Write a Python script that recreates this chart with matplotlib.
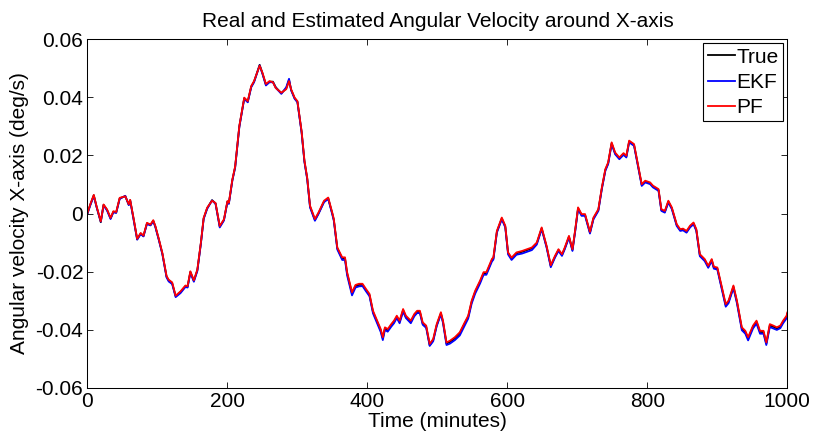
import matplotlib
matplotlib.use("Agg")
import matplotlib.pyplot as plt

plt.rcParams['font.family'] = ['Liberation Sans', 'DejaVu Sans']
plt.rcParams['axes.unicode_minus'] = False

# time stamps (minutes)
t = [0, 4, 9, 13, 19, 23, 28, 33, 37, 41,
     46, 54, 59, 61, 66, 71, 76, 80, 85, 90,
     94, 97, 102, 107, 113, 116, 121, 126, 133, 140,
     143, 147, 152, 157, 162, 166, 171, 178, 183, 189,
     195, 200, 202, 207, 211, 217, 224, 229, 234, 238,
     246, 250, 255, 260, 265, 269, 277, 284, 288, 291,
     296, 300, 306, 310, 314, 318, 325, 330, 338, 344,
     350, 352, 357, 364, 368, 371, 378, 383, 388, 393,
     398, 403, 408, 414, 419, 422, 425, 429, 434, 438,
     442, 446, 451, 455, 462, 467, 471, 475, 479, 484,
     489, 494, 499, 505, 508, 513, 518, 525, 532, 539,
     544, 549, 554, 561, 566, 570, 578, 580, 585, 592,
     597, 601, 606, 613, 621, 628, 635, 642, 649, 656,
     662, 668, 673, 678, 682, 688, 693, 697, 701, 706,
     711, 718, 723, 730, 735, 740, 744, 749, 754, 760,
     766, 770, 774, 781, 787, 792, 797, 804, 808, 816,
     820, 825, 830, 835, 842, 847, 851, 856, 861, 866,
     870, 875, 882, 887, 892, 895, 900, 906, 912, 916,
     923, 928, 935, 940, 944, 951, 956, 961, 966, 970,
     975, 980, 985, 990, 994, 999, 1000]

# true angular velocity (deg/s)
w_true = [0.0, 0.003, 0.0063, 0.0023, -0.003, 0.003, 0.0012, -0.0017, 0.0006, 0.0003,
          0.0052, 0.006, 0.003, 0.0046, -0.002, -0.0089, -0.0069, -0.0078, -0.0034, -0.004,
          -0.0025, -0.0045, -0.009, -0.0138, -0.0218, -0.023, -0.024, -0.0285, -0.027, -0.025,
          -0.0253, -0.0201, -0.0232, -0.0195, -0.0103, -0.0017, 0.0018, 0.0046, 0.0035, -0.0045,
          -0.0022, 0.0041, 0.0035, 0.0115, 0.016, 0.030, 0.0397, 0.0385, 0.0437, 0.0454,
          0.0512, 0.0483, 0.0443, 0.0454, 0.0454, 0.0435, 0.0414, 0.0431, 0.046, 0.0426,
          0.0397, 0.0385, 0.028, 0.018, 0.012, 0.0024, -0.0022, 0.0, 0.0041, 0.0052,
          -0.0002, -0.0022, -0.012, -0.0155, -0.0155, -0.0206, -0.0275, -0.025, -0.0246, -0.0246,
          -0.0264, -0.0281, -0.0339, -0.0373, -0.0402, -0.043, -0.0396, -0.0402, -0.0385, -0.0373,
          -0.0356, -0.0373, -0.0333, -0.0356, -0.0373, -0.035, -0.0339, -0.0339, -0.0379, -0.039,
          -0.0454, -0.0436, -0.0385, -0.0344, -0.0373, -0.0448, -0.0442, -0.043, -0.0413, -0.0379,
          -0.0356, -0.0304, -0.027, -0.0235, -0.0206, -0.0206, -0.016, -0.0155, -0.0063, -0.0017,
          -0.0045, -0.0137, -0.0155, -0.0137, -0.0132, -0.0126, -0.012, -0.0103, -0.0051, -0.0114,
          -0.0181, -0.0149, -0.0126, -0.0143, -0.012, -0.008, -0.0126, -0.0057, 0.0018, -0.0005,
          -0.0005, -0.0066, -0.0017, 0.0012, 0.0087, 0.015, 0.0173, 0.0242, 0.0207, 0.019,
          0.0205, 0.0196, 0.0248, 0.0236, 0.0161, 0.0098, 0.011, 0.0104, 0.0093, 0.0081,
          0.0012, 0.0006, 0.0041, 0.0018, -0.004, -0.0057, -0.0055, -0.0063, -0.0045, -0.0034,
          -0.0057, -0.0143, -0.016, -0.0183, -0.016, -0.0186, -0.0189, -0.0252, -0.0316, -0.0304,
          -0.0252, -0.0304, -0.0396, -0.0408, -0.043, -0.039, -0.0373, -0.0408, -0.0408, -0.0448,
          -0.0385, -0.039, -0.0396, -0.039, -0.0373, -0.0356, -0.0345]

# extended Kalman filter estimate
w_ekf = [0.0, 0.0028, 0.006, 0.0022, -0.0028, 0.0028, 0.001, -0.0019, 0.0004, 0.0002,
         0.005, 0.0061, 0.0029, 0.0044, -0.0022, -0.009, -0.0071, -0.0079, -0.0036, -0.0041,
         -0.0027, -0.0047, -0.0092, -0.014, -0.022, -0.0234, -0.0243, -0.0288, -0.0274, -0.0253,
         -0.0255, -0.0204, -0.0235, -0.0198, -0.0105, -0.0019, 0.0016, 0.0045, 0.0033, -0.0048,
         -0.0024, 0.004, 0.0033, 0.0113, 0.0158, 0.0298, 0.0395, 0.0383, 0.0435, 0.0452,
         0.051, 0.0481, 0.0441, 0.0452, 0.0452, 0.0433, 0.0412, 0.0435, 0.0464, 0.0424,
         0.0395, 0.0383, 0.0278, 0.0178, 0.0118, 0.0021, -0.0025, -0.0002, 0.0039, 0.005,
         -0.0005, -0.0025, -0.0124, -0.016, -0.016, -0.0213, -0.0282, -0.0255, -0.0251, -0.025,
         -0.0268, -0.0285, -0.0344, -0.0379, -0.0408, -0.0436, -0.0401, -0.0407, -0.039, -0.0378,
         -0.036, -0.0378, -0.0338, -0.036, -0.0378, -0.0354, -0.0343, -0.0343, -0.0383, -0.0394,
         -0.0456, -0.044, -0.0388, -0.0347, -0.0377, -0.0453, -0.0448, -0.0436, -0.042, -0.0386,
         -0.0362, -0.031, -0.0276, -0.0241, -0.0211, -0.0211, -0.0165, -0.0159, -0.0066, -0.002,
         -0.0048, -0.0141, -0.016, -0.0142, -0.0138, -0.0132, -0.0126, -0.0107, -0.0054, -0.0117,
         -0.0185, -0.0152, -0.0129, -0.0146, -0.0123, -0.0083, -0.0129, -0.006, 0.0015, -0.0008,
         -0.0008, -0.0069, -0.002, 0.0009, 0.0084, 0.0147, 0.017, 0.0239, 0.0204, 0.0187,
         0.0202, 0.0193, 0.0245, 0.0233, 0.0158, 0.0095, 0.0107, 0.0101, 0.009, 0.0078,
         0.0009, 0.0003, 0.0038, 0.0015, -0.0043, -0.006, -0.0058, -0.0066, -0.0048, -0.0037,
         -0.006, -0.0147, -0.0164, -0.0187, -0.0164, -0.019, -0.0193, -0.0257, -0.0321, -0.0309,
         -0.0257, -0.0309, -0.0402, -0.0414, -0.0437, -0.0396, -0.0379, -0.0414, -0.0414, -0.0453,
         -0.0391, -0.0396, -0.0401, -0.0395, -0.0378, -0.0361, -0.035]

# particle filter estimate
w_pf = [0.0002, 0.0032, 0.0064, 0.0025, -0.0027, 0.0031, 0.0014, -0.0015, 0.0008, 0.0005,
        0.0054, 0.0059, 0.0032, 0.0047, -0.0018, -0.0087, -0.0067, -0.0076, -0.0032, -0.0038,
        -0.0023, -0.0043, -0.0088, -0.0136, -0.0215, -0.0228, -0.0237, -0.0283, -0.0268, -0.0248,
        -0.025, -0.0199, -0.023, -0.0193, -0.0101, -0.0015, 0.002, 0.0044, 0.0036, -0.0043,
        -0.002, 0.0043, 0.0037, 0.0117, 0.0162, 0.0302, 0.0399, 0.0387, 0.0439, 0.0456,
        0.0509, 0.0485, 0.0446, 0.0456, 0.0452, 0.0432, 0.0416, 0.0428, 0.0456, 0.0428,
        0.0399, 0.0387, 0.0283, 0.0183, 0.0123, 0.0027, -0.0019, 0.0003, 0.0044, 0.0055,
        0.0001, -0.0019, -0.0117, -0.0151, -0.0151, -0.0202, -0.0271, -0.0246, -0.0242, -0.0242,
        -0.026, -0.0277, -0.0335, -0.0369, -0.0398, -0.0426, -0.0392, -0.0398, -0.0381, -0.0369,
        -0.0352, -0.0369, -0.0329, -0.0352, -0.0369, -0.0346, -0.0335, -0.0335, -0.0375, -0.0386,
        -0.0449, -0.0432, -0.0381, -0.034, -0.0369, -0.0444, -0.0438, -0.0426, -0.0409, -0.0375,
        -0.0352, -0.03, -0.0266, -0.0231, -0.0202, -0.0202, -0.0156, -0.0151, -0.006, -0.0014,
        -0.0042, -0.0134, -0.0152, -0.0134, -0.0129, -0.0123, -0.0117, -0.01, -0.0048, -0.0111,
        -0.0178, -0.0146, -0.0123, -0.014, -0.0117, -0.0077, -0.0123, -0.0054, 0.0021, -0.0002,
        -0.0002, -0.0063, -0.0014, 0.0015, 0.009, 0.0153, 0.0176, 0.0245, 0.021, 0.0193,
        0.0208, 0.0199, 0.0251, 0.0239, 0.0164, 0.0101, 0.0113, 0.0107, 0.0096, 0.0084,
        0.0015, 0.0009, 0.0044, 0.0021, -0.0037, -0.0054, -0.0052, -0.006, -0.0042, -0.0031,
        -0.0054, -0.014, -0.0157, -0.018, -0.0157, -0.0183, -0.0186, -0.0248, -0.0312, -0.03,
        -0.0248, -0.03, -0.0392, -0.0404, -0.0426, -0.0386, -0.0369, -0.0404, -0.0404, -0.0444,
        -0.0381, -0.0386, -0.0392, -0.0386, -0.0369, -0.0352, -0.0341]

assert len(t) == len(w_true) == len(w_ekf) == len(w_pf)

xticks = [0, 200, 400, 600, 800, 1000]
yticks = [-0.06, -0.04, -0.02, 0, 0.02, 0.04, 0.06]
ylabels = ['-0.06', '-0.04', '-0.02', '0', '0.02', '0.04', '0.06']

FS = 15

fig = plt.figure(figsize=(8.13, 4.38), dpi=100)
ax = fig.add_axes([0.1076, 0.1148, 0.8608, 0.7955])

ax.plot(t, w_true, color='black', lw=1.3, label='True')
ax.plot(t, w_ekf, color='blue', lw=1.3, label='EKF')
ax.plot(t, w_pf, color='red', lw=1.3, label='PF')

ax.set_xlim(0, 1000)
ax.set_ylim(-0.06, 0.06)
ax.set_xticks(xticks)
ax.set_yticks(yticks)
ax.set_yticklabels(ylabels)
ax.tick_params(direction='in', length=4.5, width=0.6, top=True, right=True, labelsize=FS)
ax.tick_params(axis='x', pad=3)
ax.tick_params(axis='y', pad=3)
for s in ax.spines.values():
    s.set_linewidth(0.75)

ax.set_title('Real and Estimated Angular Velocity around X-axis', fontsize=FS, pad=9)
ax.set_xlabel('Time (minutes)', fontsize=FS, labelpad=1)
ax.set_ylabel('Angular velocity X-axis (deg/s)', fontsize=FS, labelpad=5)

leg = ax.legend(loc='upper right', fontsize=FS, fancybox=False, framealpha=1,
                edgecolor='black', borderaxespad=0.2, borderpad=0.2,
                handlelength=1.3, handletextpad=0.1, labelspacing=0.3)
leg.get_frame().set_linewidth(0.8)

fig.savefig('out.png', dpi=100)
